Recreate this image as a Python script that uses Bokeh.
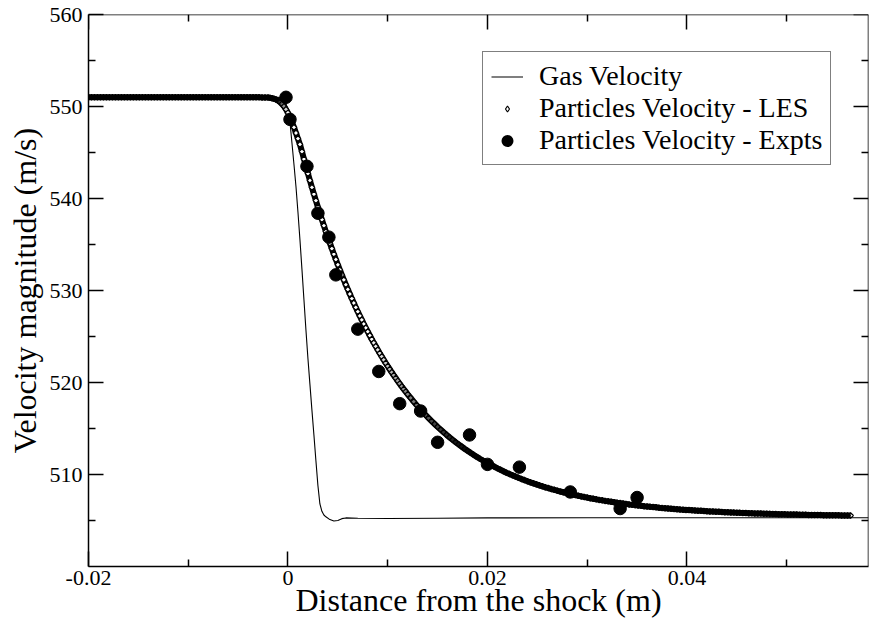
from bokeh.plotting import figure
from bokeh.models import (Range1d, FixedTicker, NumeralTickFormatter, LinearAxis,
                          Legend, LegendItem, ColumnDataSource)
from bokeh.embed import file_html
from bokeh.resources import INLINE
import numpy as np
import math

FONT = "Liberation Serif"

# ---------------- data ----------------
x_lim = [-0.02, 0.0582]
y_lim = [500, 560]
x_major = [-0.02, 0.0, 0.02, 0.04]
x_minor = [-0.01, 0.01, 0.03, 0.05]
y_major = [510, 520, 530, 540, 550, 560]
y_minor = [505, 515, 525, 535, 545, 555]

gas_x = [-0.0200, -0.0010, -0.0006, -0.0004, -0.0002, 0.0000, 0.0002, 0.0004, 0.0006, 0.0008,
         0.0010, 0.0012, 0.0014, 0.0016, 0.0018, 0.0020, 0.0022, 0.0024, 0.0026, 0.0028,
         0.0030, 0.0032, 0.0034, 0.0036, 0.0038, 0.0042, 0.0046, 0.0050, 0.0054, 0.0058,
         0.0070, 0.0100, 0.0150, 0.0200, 0.0300, 0.0400, 0.0500, 0.0582]
gas_y = [551.0, 551.0, 550.95, 550.8, 550.3, 549.6, 548.3, 546.0, 543.7, 541.3,
         538.5, 535.5, 532.3, 529.0, 525.7, 522.6, 519.8, 517.0, 514.3, 511.5,
         508.8, 506.8, 506.0, 505.6, 505.4, 505.1, 504.95, 505.0, 505.2, 505.28,
         505.25, 505.22, 505.25, 505.28, 505.3, 505.3, 505.3, 505.3]

les_x = [
    -0.0200, -0.0197, -0.0194, -0.0191, -0.0188, -0.0185, -0.0182, -0.0179, -0.0176, -0.0173,
    -0.0170, -0.0167, -0.0164, -0.0161, -0.0158, -0.0155, -0.0152, -0.0149, -0.0146, -0.0143,
    -0.0140, -0.0137, -0.0134, -0.0131, -0.0128, -0.0125, -0.0122, -0.0119, -0.0116, -0.0113,
    -0.0110, -0.0107, -0.0104, -0.0101, -0.0098, -0.0095, -0.0092, -0.0089, -0.0086, -0.0083,
    -0.0080, -0.0077, -0.0074, -0.0071, -0.0068, -0.0065, -0.0062, -0.0059, -0.0056, -0.0053,
    -0.0050, -0.0047, -0.0044, -0.0041, -0.0038, -0.0035, -0.0032, -0.0029, -0.0026, -0.0023,
    -0.0020, -0.0018, -0.0016, -0.0014, -0.0012, -0.0010, -0.0008, -0.0006, -0.0004, -0.0002,
    0.0000, 0.0002, 0.0004, 0.0006, 0.0008, 0.0010, 0.0012, 0.0014, 0.0016, 0.0018,
    0.0020, 0.0022, 0.0024, 0.0026, 0.0028, 0.0030, 0.0032, 0.0034, 0.0036, 0.0038,
    0.0040, 0.0042, 0.0044, 0.0046, 0.0048, 0.0050, 0.0052, 0.0054, 0.0056, 0.0058,
    0.0060, 0.0062, 0.0064, 0.0066, 0.0068, 0.0070, 0.0072, 0.0074, 0.0076, 0.0078,
    0.0080, 0.0082, 0.0084, 0.0086, 0.0088, 0.0090, 0.0092, 0.0094, 0.0096, 0.0098,
    0.0100, 0.0102, 0.0104, 0.0106, 0.0108, 0.0110, 0.0112, 0.0114, 0.0116, 0.0118,
    0.0120,
    0.0123, 0.0126, 0.0129, 0.0132, 0.0135, 0.0138, 0.0141, 0.0144, 0.0147, 0.0150,
    0.0153, 0.0156, 0.0159, 0.0162, 0.0165, 0.0168, 0.0171, 0.0174, 0.0177, 0.0180,
    0.0183, 0.0186, 0.0189, 0.0192, 0.0195, 0.0198, 0.0201, 0.0204, 0.0207, 0.0210,
    0.0213, 0.0216, 0.0219, 0.0222, 0.0225, 0.0228, 0.0231, 0.0234, 0.0237, 0.0240,
    0.0243, 0.0246, 0.0249, 0.0252, 0.0255, 0.0258, 0.0261, 0.0264, 0.0267, 0.0270,
    0.0273, 0.0276, 0.0279, 0.0282, 0.0285, 0.0288, 0.0291, 0.0294, 0.0297, 0.0300,
    0.0303, 0.0306, 0.0309, 0.0312, 0.0315, 0.0318, 0.0321, 0.0324, 0.0327, 0.0330,
    0.0333, 0.0336, 0.0339, 0.0342, 0.0345, 0.0348, 0.0351, 0.0354, 0.0357, 0.0360,
    0.0363, 0.0366, 0.0369, 0.0372, 0.0375, 0.0378, 0.0381, 0.0384, 0.0387, 0.0390,
    0.0393, 0.0396, 0.0399, 0.0402, 0.0405, 0.0408, 0.0411, 0.0414, 0.0417, 0.0420,
    0.0423, 0.0426, 0.0429, 0.0432, 0.0435, 0.0438, 0.0441, 0.0444, 0.0447, 0.0450,
    0.0453, 0.0456, 0.0459, 0.0462, 0.0465, 0.0468, 0.0471, 0.0474, 0.0477, 0.0480,
    0.0483, 0.0486, 0.0489, 0.0492, 0.0495, 0.0498, 0.0501, 0.0504, 0.0507, 0.0510,
    0.0513, 0.0516, 0.0519, 0.0522, 0.0525, 0.0528, 0.0531, 0.0534, 0.0537, 0.0540,
    0.0543, 0.0546, 0.0549, 0.0552, 0.0555, 0.0558, 0.0561, 0.0564,
]
les_y = [
    551.0, 551.0, 551.0, 551.0, 551.0, 551.0, 551.0, 551.0, 551.0, 551.0,
    551.0, 551.0, 551.0, 551.0, 551.0, 551.0, 551.0, 551.0, 551.0, 551.0,
    551.0, 551.0, 551.0, 551.0, 551.0, 551.0, 551.0, 551.0, 551.0, 551.0,
    551.0, 551.0, 551.0, 551.0, 551.0, 551.0, 551.0, 551.0, 551.0, 551.0,
    551.0, 551.0, 551.0, 551.0, 551.0, 551.0, 551.0, 551.0, 551.0, 551.0,
    551.0, 551.0, 551.0, 551.0, 551.0, 551.0, 551.0, 551.0, 550.99, 550.98,
    550.97, 550.94, 550.90, 550.84, 550.76, 550.64, 550.48, 550.27, 550.01, 549.69,
    549.30, 548.84, 548.32, 547.74, 547.12, 546.50, 545.88, 545.10, 544.29, 543.50,
    542.72, 541.96, 541.21, 540.48, 539.77, 539.07, 538.38, 537.71, 537.05, 536.40,
    535.77, 535.15, 534.55, 533.95, 533.37, 532.80, 532.24, 531.69, 531.16, 530.63,
    530.12, 529.62, 529.12, 528.64, 528.16, 527.70, 527.24, 526.80, 526.36, 525.93,
    525.52, 525.11, 524.70, 524.31, 523.93, 523.55, 523.18, 522.82, 522.46, 522.11,
    521.77, 521.44, 521.11, 520.79, 520.48, 520.17, 519.87, 519.57, 519.28, 519.00,
    518.72,
    518.32, 517.92, 517.54, 517.17, 516.81, 516.47, 516.13, 515.80, 515.49, 515.18,
    514.88, 514.59, 514.31, 514.04, 513.78, 513.52, 513.28, 513.04, 512.80, 512.58,
    512.36, 512.15, 511.94, 511.74, 511.55, 511.36, 511.18, 511.01, 510.84, 510.67,
    510.51, 510.35, 510.20, 510.06, 509.92, 509.78, 509.65, 509.52, 509.39, 509.27,
    509.15, 509.04, 508.93, 508.82, 508.72, 508.61, 508.52, 508.42, 508.33, 508.24,
    508.15, 508.07, 507.99, 507.91, 507.83, 507.76, 507.69, 507.62, 507.55, 507.49,
    507.42, 507.36, 507.30, 507.24, 507.19, 507.13, 507.08, 507.03, 506.98, 506.93,
    506.89, 506.84, 506.80, 506.75, 506.71, 506.67, 506.63, 506.60, 506.56, 506.53,
    506.49, 506.46, 506.43, 506.39, 506.36, 506.34, 506.31, 506.28, 506.25, 506.23,
    506.20, 506.18, 506.15, 506.13, 506.11, 506.09, 506.07, 506.05, 506.03, 506.01,
    505.99, 505.97, 505.95, 505.94, 505.92, 505.90, 505.89, 505.87, 505.86, 505.85,
    505.83, 505.82, 505.81, 505.79, 505.78, 505.77, 505.76, 505.75, 505.74, 505.73,
    505.72, 505.71, 505.70, 505.69, 505.68, 505.67, 505.66, 505.66, 505.65, 505.64,
    505.63, 505.63, 505.62, 505.61, 505.61, 505.60, 505.59, 505.59, 505.58, 505.58,
    505.57, 505.57, 505.56, 505.56, 505.55, 505.55, 505.54, 505.54,
]

exp_x = [-0.0002, 0.0002, 0.0019, 0.0030, 0.0041, 0.0048, 0.0070, 0.0091, 0.0112,
         0.0133, 0.0150, 0.0182, 0.0200, 0.0232, 0.0283, 0.0333, 0.0350]
exp_y = [551.0, 548.6, 543.5, 538.4, 535.8, 531.7, 525.8, 521.2, 517.7,
         516.9, 513.5, 514.3, 511.1, 510.8, 508.1, 506.3, 507.5]

n = min(len(les_x), len(les_y))
les_x, les_y = les_x[:n], les_y[:n]

# ---------------- figure ----------------
p = figure(width=870, height=625, output_backend="svg", toolbar_location=None,
           x_range=Range1d(x_lim[0], x_lim[1]), y_range=Range1d(y_lim[0], y_lim[1]),
           x_axis_label="Distance from the shock (m)",
           y_axis_label="Velocity magnitude (m/s)",
           min_border_left=88, min_border_right=2, min_border_top=14, min_border_bottom=59)
p.grid.visible = False
p.outline_line_color = None
p.background_fill_color = "white"
p.border_fill_color = "white"


def base_style(ax):
    ax.axis_line_color = "black"
    ax.axis_line_width = 1.5
    ax.major_tick_line_color = "black"
    ax.major_tick_line_width = 1.5
    ax.minor_tick_line_color = "black"
    ax.minor_tick_line_width = 1.5
    ax.major_tick_in = 15
    ax.major_tick_out = 0
    ax.minor_tick_in = 7
    ax.minor_tick_out = 0


def labelled(ax, ticker):
    base_style(ax)
    ax.ticker = ticker
    ax.major_label_text_font = FONT
    ax.major_label_text_font_size = "22px"
    ax.major_label_text_color = "black"
    ax.axis_label_text_font = FONT
    ax.axis_label_text_font_size = "32px"
    ax.axis_label_text_font_style = "normal"
    ax.axis_label_text_color = "black"


def mirror(ticks, length, loc, draw_line):
    # tick-only axis (no labels): ticks are drawn as "minor" ticks
    ax = LinearAxis(ticker=FixedTicker(ticks=[], minor_ticks=ticks), fixed_location=loc)
    base_style(ax)
    ax.minor_tick_in = length
    ax.major_label_standoff = 0
    ax.axis_label = None
    if not draw_line:
        ax.axis_line_color = None
    return ax


labelled(p.xaxis[0], FixedTicker(ticks=x_major, minor_ticks=x_minor))
p.xaxis[0].formatter = NumeralTickFormatter(format="0.[00]")
p.xaxis[0].major_label_standoff = 4
p.xaxis[0].axis_label_standoff = -6
labelled(p.yaxis[0], FixedTicker(ticks=y_major, minor_ticks=y_minor))
p.yaxis[0].major_label_standoff = 6
p.yaxis[0].axis_label_standoff = 4

p.add_layout(mirror(x_major, 15, y_lim[1], True), "above")
p.add_layout(mirror(x_minor, 7, y_lim[1], False), "above")
p.add_layout(mirror(y_major, 15, x_lim[1], True), "right")
p.add_layout(mirror(y_minor, 7, x_lim[1], False), "right")

# ---------------- glyphs ----------------
# where the LES curve is flat its dense markers merge into a solid band;
# the hollow centres only show where the curve is steep
lx = np.array(les_x)
ly = np.array(les_y)
slope = np.abs(np.gradient(ly, lx))
les_fill_alpha = np.clip((slope - 700.0) / 1300.0, 0.0, 1.0)

gas_src = ColumnDataSource(dict(x=gas_x, y=gas_y))
les_src = ColumnDataSource(dict(x=les_x, y=les_y, fa=les_fill_alpha))
exp_src = ColumnDataSource(dict(x=exp_x, y=exp_y))

r_gas = p.line("x", "y", source=gas_src, line_color="black", line_width=1.1)
p.line("x", "y", source=les_src, line_color="black", line_width=6)
p.scatter("x", "y", source=les_src, marker="square", angle=math.pi / 4,
          size=4, fill_color="white", fill_alpha="fa", line_color="black", line_width=1.2)
p.scatter("x", "y", source=exp_src, marker="circle", size=12.5,
          fill_color="black", line_color="black", line_width=1)

# legend symbols (not drawn in the plot area)
leg_les = p.scatter("x", "y", source=les_src, marker="diamond", size=6,
                    fill_color="white", line_color="black", line_width=1.2, visible=False)
leg_exp = p.scatter("x", "y", source=exp_src, marker="circle", size=6,
                    fill_color="black", line_color="black", line_width=6, visible=False)

legend = Legend(items=[
    LegendItem(label="Gas Velocity", renderers=[r_gas]),
    LegendItem(label="Particles Velocity - LES", renderers=[leg_les]),
    LegendItem(label="Particles Velocity - Expts", renderers=[leg_exp]),
], location=(394, 401))
legend.label_text_font = FONT
legend.label_text_font_size = "28px"
legend.label_text_color = "black"
legend.border_line_color = "black"
legend.border_line_width = 1.5
legend.background_fill_color = "white"
legend.background_fill_alpha = 1.0
legend.inactive_fill_alpha = 0.0
legend.glyph_width = 32
legend.glyph_height = 15
legend.label_height = 30
legend.label_standoff = 16
legend.padding = 8
legend.spacing = 0
legend.margin = 0
p.add_layout(legend)

open("out.html", "w").write(file_html(p, INLINE))
